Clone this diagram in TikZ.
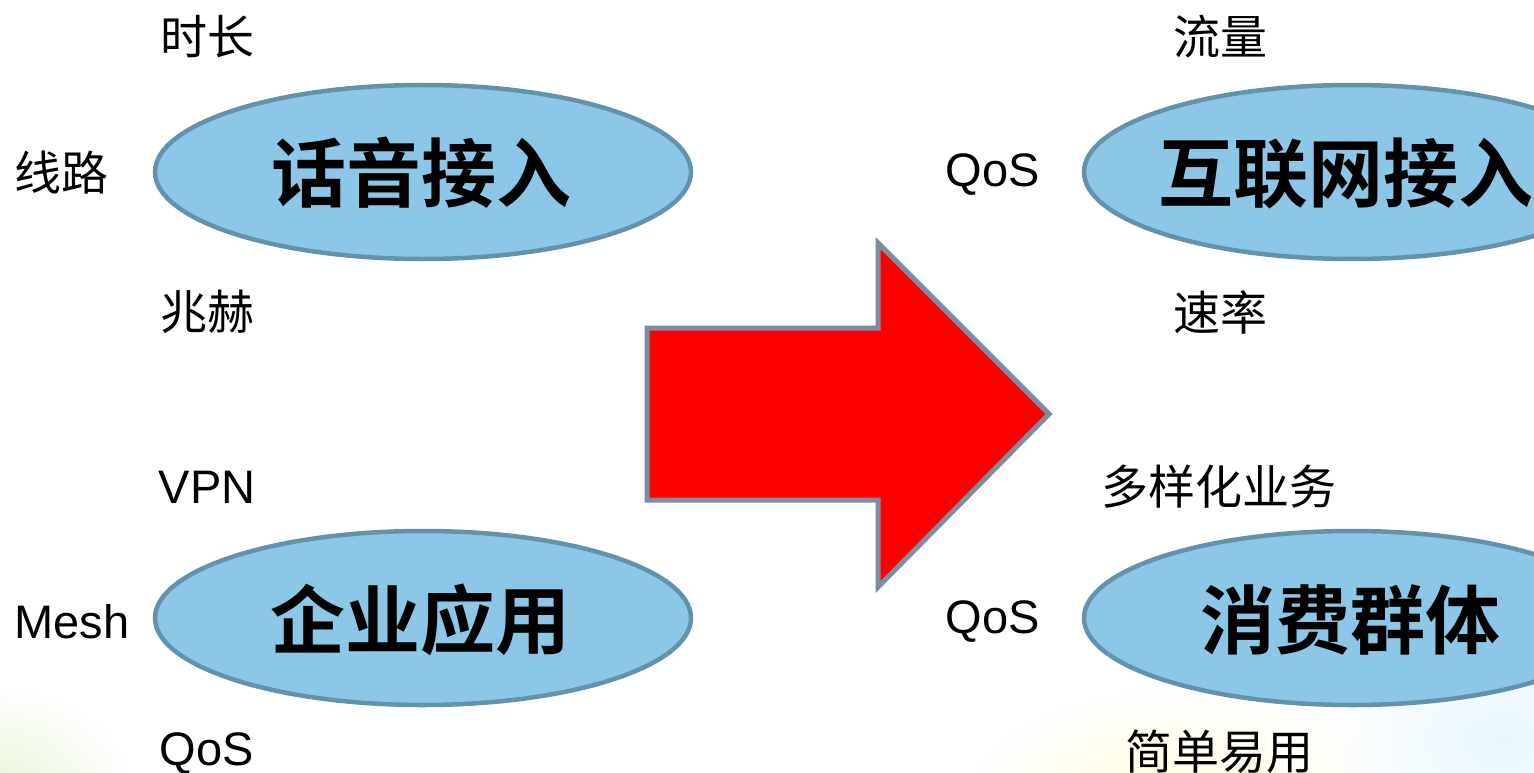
\documentclass[tikz,border=0pt]{standalone}
\usepackage{fontspec}
\setmainfont{Liberation Sans}
\newfontfamily\cjk{Noto Sans CJK SC}
\newfontfamily\cjkb{Noto Sans CJK SC Bold}
\usetikzlibrary{fadings,shapes.geometric}
\definecolor{ellfill}{RGB}{140,199,232}
\definecolor{ellline}{RGB}{98,146,172}
\definecolor{arrline}{RGB}{125,140,160}
\tikzfading[name=softglow,inner color=transparent!65,outer color=transparent!100]
\tikzset{
  x=1pt,y=-1pt,
  blob/.style={ellipse,draw=ellline,line width=4.5pt,fill=ellfill,minimum width=536pt,minimum height=174pt,inner sep=0pt},
  bigtext/.style={font=\cjkb\fontsize{75}{75}\selectfont,text=black,inner sep=0pt,anchor=center},
  labeltext/.style={font=\cjk\fontsize{47}{47}\selectfont,text=black,inner sep=0pt,anchor=center},
  latintext/.style={font=\fontsize{47}{47}\selectfont,text=black,inner sep=0pt,anchor=center},
  bigarrow/.style={draw=arrline,fill=red,line width=5pt,miter limit=10}
}
\begin{document}
\begin{tikzpicture}
\useasboundingbox (0,0) rectangle (1534,773);
\fill[white] (0,0) rectangle (1534,773);
\begin{scope}
\clip (0,0) rectangle (1534,773);
\fill[yellow!45!green!45,path fading=softglow] (0,790) ellipse (130 and 100);
\fill[yellow!40,path fading=softglow] (1180,800) ellipse (210 and 110);
\fill[cyan!25,path fading=softglow] (1500,740) ellipse (170 and 130);
\node[blob] (voice) at (423,172) {};
\node[blob] (net) at (1352,172) {};
\node[blob] (biz) at (423,618) {};
\node[blob] (consumer) at (1352,618) {};
\end{scope}
\draw[bigarrow] (647,328) -- (878,328) -- (878,243) -- (1049,414) -- (878,587) -- (878,500) -- (647,500) -- cycle;
\node[bigtext] (voicet) at (421,173) {话音接入};
\node[bigtext] (nett) at (1346,173) {互联网接入};
\node[bigtext] (bizt) at (420,620) {企业应用};
\node[bigtext] (const) at (1350,620) {消费群体};
\node[labeltext] (a) at (207,37) {时长};
\node[labeltext] (b) at (61,173) {线路};
\node[labeltext] (c) at (207,312) {兆赫};
\node[latintext] (d) at (207,487) {VPN};
\node[latintext] (e) at (72,622) {Mesh};
\node[latintext] (f) at (207,754) {QoS};
\node[labeltext] (g) at (1220,37) {流量};
\node[latintext] (h) at (993,175) {QoS};
\node[labeltext] (i) at (1220,312) {速率};
\node[labeltext] (j) at (1219,487) {多样化业务};
\node[latintext] (k) at (993,622) {QoS};
\node[labeltext] (l) at (1219,752) {简单易用};
\end{tikzpicture}
\end{document}
